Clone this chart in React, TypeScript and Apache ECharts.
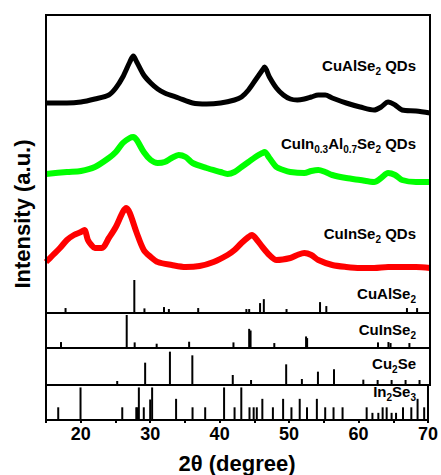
import React, { useEffect, useRef } from "react";
import * as echarts from "echarts";

const xMin = 15;
const xMax = 70;
const xTickLabels = [20, 30, 40, 50, 60, 70];
const xTickMarks = [15, 20, 25, 30, 35, 40, 45, 50, 55, 60, 65, 70];

// XRD patterns (2θ, offset intensity)
const cuAlSe2QDs: [number, number][] = [
  [15, 210], [18, 210], [20, 211], [22, 214], [24, 218], [25, 225], [26, 236], [27, 251],
  [27.5, 257], [28, 251], [29, 238], [30, 230], [31, 224], [32, 220], [34, 215], [36, 210],
  [38, 209], [40, 210], [42, 213], [43, 216], [44, 223], [45, 233], [46, 243], [46.3, 246],
  [47, 236], [48, 225], [49, 218], [50, 214], [51, 213], [52, 214], [53, 216], [54, 218],
  [55, 218], [56, 215], [58, 210], [60, 206], [62, 203], [63, 206], [64, 211], [65, 208],
  [66, 203], [68, 202], [70, 200],
];
const cuInAlSe2QDs: [number, number][] = [
  [15, 139], [18, 141], [20, 142], [22, 146], [24, 155], [25, 161], [26, 170], [27, 175],
  [27.5, 176], [28, 173], [29, 161], [30, 153], [31, 150], [32, 151], [33, 155], [34, 158],
  [35, 156], [36, 150], [38, 145], [40, 141], [41, 139], [42, 141], [43, 146], [44, 151],
  [45, 156], [46, 160], [46.3, 161], [47, 155], [48, 146], [49, 143], [50, 141], [52, 140],
  [53, 142], [54, 143], [55, 141], [56, 138], [58, 135], [60, 133], [62, 131], [63, 135],
  [64, 140], [65, 138], [66, 133], [68, 131], [70, 131],
];
const cuInSe2QDs: [number, number][] = [
  [15, 51], [16, 58], [17, 65], [18, 73], [19, 78], [20, 81], [20.5, 83], [21, 73],
  [21.5, 68], [22, 65], [23, 65], [24, 75], [25, 86], [26, 101], [26.5, 105], [27, 100],
  [28, 80], [29, 63], [30, 56], [31, 51], [33, 48], [35, 46], [37, 47], [39, 51], [41, 58],
  [42, 63], [43, 70], [44, 76], [44.5, 78], [45, 75], [46, 66], [47, 58], [48, 53], [50, 55],
  [51, 58], [52, 60], [53, 58], [54, 53], [56, 48], [58, 46], [60, 45], [62, 45], [64, 46],
  [66, 46], [68, 46], [70, 45],
];

// Reference stick patterns (2θ, relative intensity)
const refCuAlSe2: [number, number][] = [
  [17.8, 15], [27.65, 100], [29.1, 14], [31.9, 18], [32.6, 12], [36.8, 15], [43.7, 12],
  [44.1, 12], [45.66, 30], [46.2, 42], [49.45, 12], [54.25, 33], [55.15, 21], [66.7, 15],
  [68.15, 15],
];
const refCuInSe2: [number, number][] = [
  [17.15, 18], [26.56, 100], [27.7, 17], [30.85, 13], [35.5, 19], [41.85, 17], [44.1, 58],
  [44.3, 53], [47.7, 15], [52.25, 35], [52.4, 30], [62.55, 17], [64.05, 18], [64.35, 15],
  [67.05, 15],
];
const refCu2Se: [number, number][] = [
  [25.2, 12], [29.2, 67], [32.75, 100], [35.96, 89], [41.75, 30], [44.37, 15], [49.4, 62],
  [51.65, 18], [53.95, 40], [56.25, 47], [60.45, 16], [62.5, 15], [64.5, 15], [66.5, 15],
  [68.5, 15],
];
const refIn2Se3: [number, number][] = [
  [16.76, 39], [19.97, 100], [25.98, 39], [28.0, 39], [28.15, 39], [28.37, 100], [29.08, 39],
  [30.0, 63], [30.28, 100], [33.73, 65], [36.1, 39], [37.92, 39], [40.64, 100], [42.15, 39],
  [43.12, 100], [44.3, 39], [44.9, 39], [45.35, 39], [46.15, 65], [47.67, 39], [49.14, 65],
  [50.34, 39], [51.53, 65], [52.58, 39], [54.0, 65], [55.2, 39], [56.4, 39], [57.7, 39],
  [61.17, 39], [62.0, 22], [62.85, 22], [63.47, 39], [64.05, 39], [64.76, 22], [65.4, 22],
  [66.4, 39], [67.6, 39], [68.5, 65], [69.45, 39],
];

const FONT = "'Liberation Sans', Arial, Helvetica, sans-serif";

export default function App() {
  const ref = useRef<HTMLDivElement>(null);

  useEffect(() => {
    if (!ref.current) return;
    const chart = echarts.init(ref.current, undefined, { renderer: "svg" });

    const L = 46;
    const W = 384;
    const gridDefs = [
      { top: 15, height: 298 },
      { top: 278, height: 35 },
      { top: 313, height: 35 },
      { top: 348, height: 37 },
      { top: 385, height: 37 },
    ];
    const grids = gridDefs.map((g, i) => ({
      left: L,
      width: W,
      top: g.top,
      height: g.height,
      show: i !== 1,
      borderColor: "#000",
      borderWidth: 2,
      backgroundColor: "rgba(255,255,255,0)",
    }));

    const xAxes: any[] = grids.map((_, i) => {
      const last = i === grids.length - 1;
      return {
        type: "value",
        gridIndex: i,
        min: xMin,
        max: xMax,
        show: last,
        splitLine: { show: false },
        axisLine: { show: last, lineStyle: { color: "#000", width: 2 } },
        axisTick: {
          show: last,
          customValues: xTickMarks,
          length: 3,
          inside: false,
          lineStyle: { color: "#000", width: 2 },
        },
        axisLabel: {
          show: last,
          customValues: xTickLabels,
          margin: 5,
          color: "#000",
          fontSize: 18,
          fontWeight: "bold",
          fontFamily: FONT,
        },
        name: last ? "2θ (degree)" : "",
        nameLocation: "middle",
        nameGap: 32,
        nameTextStyle: { color: "#000", fontSize: 22, fontWeight: "bold", fontFamily: FONT },
      };
    });

    const yMax = [298, 106, 106, 111, 107.5];
    const yAxes: any[] = yMax.map((m, i) => ({
      type: "value",
      gridIndex: i,
      min: 0,
      max: m,
      show: false,
      splitLine: { show: false },
    }));

    const lineSeries = (data: [number, number][], color: string, width: number) => ({
      type: "line",
      xAxisIndex: 0,
      yAxisIndex: 0,
      data,
      smooth: 0.3,
      symbol: "none",
      lineStyle: { color, width, cap: "butt", join: "round" },
      clip: false,
    });
    const stickSeries = (data: [number, number][], idx: number) => ({
      type: "bar",
      xAxisIndex: idx,
      yAxisIndex: idx,
      data,
      barWidth: 2,
      clip: false,
      itemStyle: { color: "#000" },
    });

    // main panel frame: a custom series that places its bars from the axis extents
    const frameSeries = {
      type: "custom",
      xAxisIndex: 0,
      yAxisIndex: 0,
      silent: true,
      clip: false,
      z: 30,
      data: [[xMin, 0]],
      renderItem: (_params: any, api: any) => {
        const p0 = api.coord([xMin, yMax[0]]);
        const p1 = api.coord([xMax, 0]);
        const x0 = p0[0];
        const y0 = p0[1];
        const x1 = p1[0];
        const y1 = p1[1];
        const s = { fill: "#000000" };
        return {
          type: "group",
          children: [
            { type: "rect", shape: { x: x0 - 1, y: y0 - 1, width: x1 - x0 + 2, height: 2 }, style: s },
            { type: "rect", shape: { x: x0 - 1, y: y0 - 1, width: 2, height: y1 - y0 + 2 }, style: s },
            { type: "rect", shape: { x: x1 - 1, y: y0 - 1, width: 2, height: y1 - y0 + 2 }, style: s },
          ],
        };
      },
    };

    const sub = { fontSize: 10, lineHeight: 10, verticalAlign: "bottom", fontWeight: "bold", fontFamily: FONT, fill: "#000" };
    const label = (text: string, y: number) => ({
      type: "text",
      x: 416,
      y,
      z: 10,
      style: {
        text,
        fill: "#000",
        fontSize: 15,
        fontWeight: "bold",
        fontFamily: FONT,
        lineHeight: 22,
        align: "right",
        verticalAlign: "middle",
        rich: { s: sub },
      },
    });

    chart.setOption({
      animation: false,
      backgroundColor: "#fff",
      grid: grids,
      xAxis: xAxes,
      yAxis: yAxes,
      series: [
        lineSeries(cuAlSe2QDs, "#000000", 5),
        lineSeries(cuInAlSe2QDs, "#00ff00", 6),
        lineSeries(cuInSe2QDs, "#ff0000", 6),
        frameSeries,
        stickSeries(refCuAlSe2, 1),
        stickSeries(refCuInSe2, 2),
        stickSeries(refCu2Se, 3),
        stickSeries(refIn2Se3, 4),
      ],
      graphic: [
        label("CuAlSe{s|2} QDs", 65),
        label("CuIn{s|0.3}Al{s|0.7}Se{s|2} QDs", 143),
        label("CuInSe{s|2} QDs", 233),
        label("CuAlSe{s|2}", 293),
        label("CuInSe{s|2}", 329),
        label("Cu{s|2}Se", 363),
        label("In{s|2}Se{s|3}", 391),
        {
          type: "text",
          x: 22,
          y: 214,
          rotation: Math.PI / 2,
          style: {
            text: "Intensity (a.u.)",
            fill: "#000",
            fontSize: 22,
            fontWeight: "bold",
            fontFamily: FONT,
            align: "center",
            verticalAlign: "middle",
          },
        },
      ],
    });

    return () => chart.dispose();
  }, []);

  return (
    <div
      ref={ref}
      style={{ position: "fixed", left: 0, top: 0, width: 441, height: 475, background: "#fff" }}
    />
  );
}
